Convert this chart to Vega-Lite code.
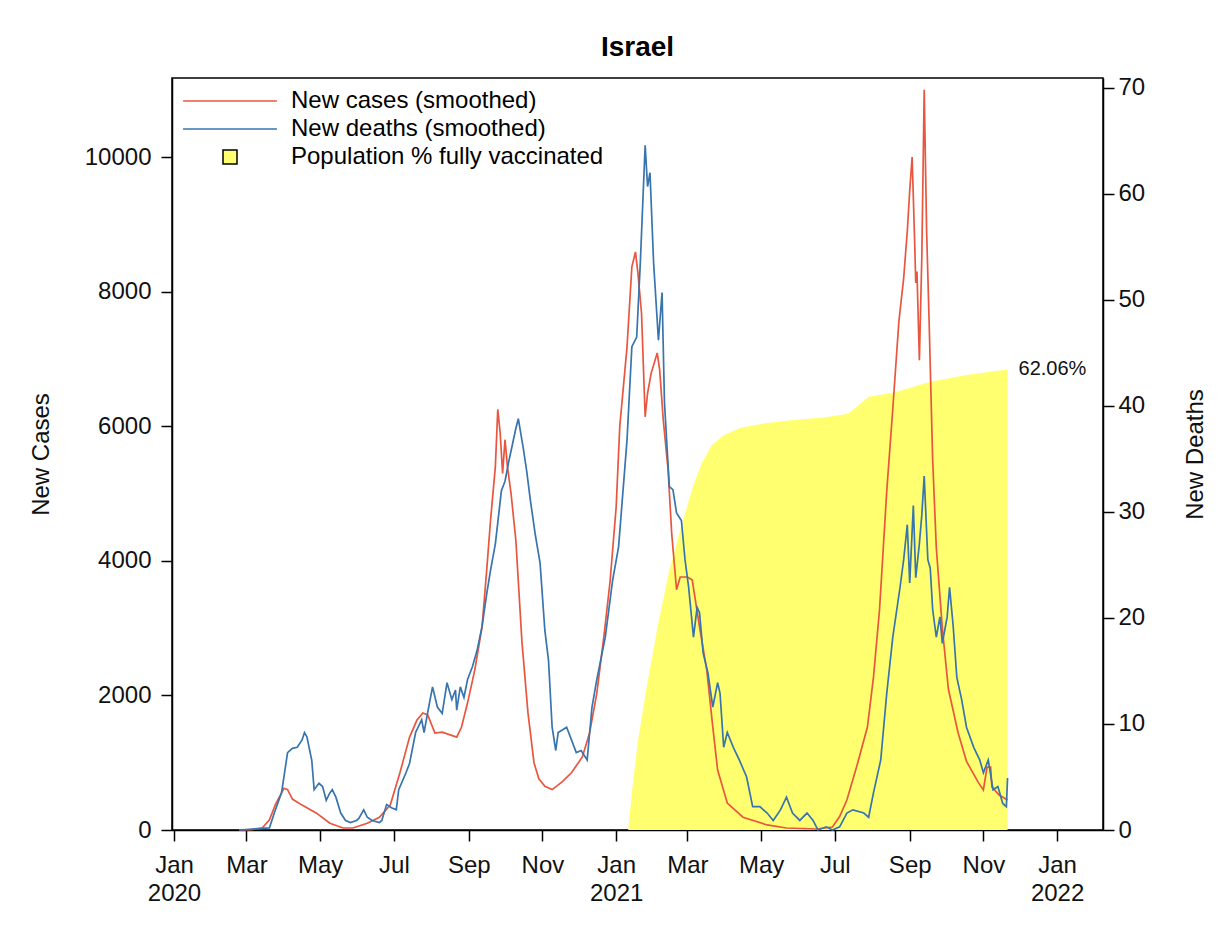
{
  "$schema": "https://vega.github.io/schema/vega-lite/v6.json",
  "width": 931,
  "height": 752,
  "autosize": "none",
  "padding": {"left": 172, "top": 78, "right": 125, "bottom": 97},
  "background": "white",
  "title": {"text": "Israel", "fontSize": 28, "fontWeight": "bold", "font": "Liberation Sans", "color": "#000", "anchor": "middle", "offset": 14},
  "datasets": {
    "cases": [
      {"date": "2020-02-24", "value": 0}, {"date": "2020-03-05", "value": 5}, {"date": "2020-03-14", "value": 30},
      {"date": "2020-03-20", "value": 150}, {"date": "2020-03-25", "value": 380}, {"date": "2020-04-01", "value": 620},
      {"date": "2020-04-04", "value": 600}, {"date": "2020-04-08", "value": 460}, {"date": "2020-04-16", "value": 370},
      {"date": "2020-04-28", "value": 250}, {"date": "2020-05-09", "value": 100}, {"date": "2020-05-20", "value": 30},
      {"date": "2020-05-28", "value": 30}, {"date": "2020-06-09", "value": 100}, {"date": "2020-06-19", "value": 190},
      {"date": "2020-06-28", "value": 370}, {"date": "2020-07-06", "value": 850}, {"date": "2020-07-14", "value": 1380},
      {"date": "2020-07-20", "value": 1630}, {"date": "2020-07-25", "value": 1740}, {"date": "2020-07-29", "value": 1710},
      {"date": "2020-08-04", "value": 1440}, {"date": "2020-08-10", "value": 1455}, {"date": "2020-08-22", "value": 1380},
      {"date": "2020-08-26", "value": 1530}, {"date": "2020-08-31", "value": 1890}, {"date": "2020-09-06", "value": 2380},
      {"date": "2020-09-12", "value": 3020}, {"date": "2020-09-16", "value": 3900}, {"date": "2020-09-19", "value": 4600},
      {"date": "2020-09-23", "value": 5400}, {"date": "2020-09-25", "value": 6250}, {"date": "2020-09-27", "value": 5900},
      {"date": "2020-09-29", "value": 5300}, {"date": "2020-10-01", "value": 5800}, {"date": "2020-10-03", "value": 5400},
      {"date": "2020-10-06", "value": 5000}, {"date": "2020-10-10", "value": 4300}, {"date": "2020-10-15", "value": 2800},
      {"date": "2020-10-20", "value": 1740}, {"date": "2020-10-25", "value": 1000}, {"date": "2020-10-29", "value": 760},
      {"date": "2020-11-03", "value": 650}, {"date": "2020-11-09", "value": 600}, {"date": "2020-11-17", "value": 710},
      {"date": "2020-11-25", "value": 850}, {"date": "2020-12-04", "value": 1085}, {"date": "2020-12-10", "value": 1440},
      {"date": "2020-12-16", "value": 2035}, {"date": "2020-12-22", "value": 2900}, {"date": "2020-12-27", "value": 3700},
      {"date": "2021-01-01", "value": 4800}, {"date": "2021-01-04", "value": 6000}, {"date": "2021-01-10", "value": 7180},
      {"date": "2021-01-14", "value": 8370}, {"date": "2021-01-17", "value": 8590}, {"date": "2021-01-19", "value": 8280},
      {"date": "2021-01-22", "value": 7680}, {"date": "2021-01-25", "value": 6140}, {"date": "2021-01-27", "value": 6490},
      {"date": "2021-01-30", "value": 6790}, {"date": "2021-02-04", "value": 7090}, {"date": "2021-02-06", "value": 6840},
      {"date": "2021-02-09", "value": 6090}, {"date": "2021-02-13", "value": 5350}, {"date": "2021-02-16", "value": 4400},
      {"date": "2021-02-20", "value": 3570}, {"date": "2021-02-23", "value": 3760}, {"date": "2021-03-01", "value": 3760},
      {"date": "2021-03-05", "value": 3715}, {"date": "2021-03-11", "value": 3020}, {"date": "2021-03-17", "value": 2380},
      {"date": "2021-03-22", "value": 1530}, {"date": "2021-03-26", "value": 890}, {"date": "2021-04-03", "value": 400},
      {"date": "2021-04-16", "value": 190}, {"date": "2021-05-06", "value": 75}, {"date": "2021-05-22", "value": 30},
      {"date": "2021-06-16", "value": 15}, {"date": "2021-06-29", "value": 45}, {"date": "2021-07-05", "value": 200},
      {"date": "2021-07-11", "value": 445}, {"date": "2021-07-19", "value": 935}, {"date": "2021-07-28", "value": 1530},
      {"date": "2021-08-02", "value": 2270}, {"date": "2021-08-07", "value": 3270}, {"date": "2021-08-13", "value": 5040},
      {"date": "2021-08-18", "value": 6260}, {"date": "2021-08-23", "value": 7550}, {"date": "2021-08-27", "value": 8200},
      {"date": "2021-08-30", "value": 8900}, {"date": "2021-09-01", "value": 9500}, {"date": "2021-09-03", "value": 10000},
      {"date": "2021-09-05", "value": 8800}, {"date": "2021-09-06", "value": 8130}, {"date": "2021-09-07", "value": 8300},
      {"date": "2021-09-09", "value": 6980}, {"date": "2021-09-11", "value": 8500}, {"date": "2021-09-13", "value": 11000},
      {"date": "2021-09-15", "value": 8900}, {"date": "2021-09-17", "value": 7600}, {"date": "2021-09-20", "value": 5500},
      {"date": "2021-09-23", "value": 4200}, {"date": "2021-09-28", "value": 3000}, {"date": "2021-10-03", "value": 2095},
      {"date": "2021-10-11", "value": 1450}, {"date": "2021-10-18", "value": 1020}, {"date": "2021-10-28", "value": 700},
      {"date": "2021-11-01", "value": 595}, {"date": "2021-11-04", "value": 935}, {"date": "2021-11-07", "value": 935},
      {"date": "2021-11-08", "value": 640}, {"date": "2021-11-14", "value": 520}, {"date": "2021-11-21", "value": 445}
    ],
    "deaths": [
      {"date": "2020-02-24", "value": 0}, {"date": "2020-03-20", "value": 0.2}, {"date": "2020-03-24", "value": 1.6},
      {"date": "2020-03-30", "value": 3.5}, {"date": "2020-04-04", "value": 7.3}, {"date": "2020-04-08", "value": 7.7},
      {"date": "2020-04-12", "value": 7.8}, {"date": "2020-04-16", "value": 8.5}, {"date": "2020-04-18", "value": 9.2},
      {"date": "2020-04-20", "value": 8.8}, {"date": "2020-04-24", "value": 6.6}, {"date": "2020-04-26", "value": 3.8},
      {"date": "2020-04-30", "value": 4.4}, {"date": "2020-05-03", "value": 4.1}, {"date": "2020-05-06", "value": 2.8},
      {"date": "2020-05-09", "value": 3.5}, {"date": "2020-05-11", "value": 3.8}, {"date": "2020-05-14", "value": 3.1},
      {"date": "2020-05-18", "value": 1.6}, {"date": "2020-05-22", "value": 0.9}, {"date": "2020-05-26", "value": 0.7},
      {"date": "2020-05-31", "value": 0.9}, {"date": "2020-06-02", "value": 1.1}, {"date": "2020-06-06", "value": 1.9},
      {"date": "2020-06-09", "value": 1.2}, {"date": "2020-06-13", "value": 0.9}, {"date": "2020-06-19", "value": 0.7},
      {"date": "2020-06-21", "value": 0.9}, {"date": "2020-06-25", "value": 2.4}, {"date": "2020-06-29", "value": 2.1},
      {"date": "2020-07-03", "value": 1.9}, {"date": "2020-07-05", "value": 3.8}, {"date": "2020-07-11", "value": 5.4},
      {"date": "2020-07-14", "value": 6.3}, {"date": "2020-07-19", "value": 9.2}, {"date": "2020-07-24", "value": 10.4},
      {"date": "2020-07-26", "value": 9.2}, {"date": "2020-07-29", "value": 11.1}, {"date": "2020-08-02", "value": 13.5},
      {"date": "2020-08-06", "value": 11.6}, {"date": "2020-08-10", "value": 11.0}, {"date": "2020-08-14", "value": 13.9},
      {"date": "2020-08-18", "value": 12.3}, {"date": "2020-08-21", "value": 13.2}, {"date": "2020-08-22", "value": 11.3},
      {"date": "2020-08-25", "value": 13.5}, {"date": "2020-08-28", "value": 12.5}, {"date": "2020-08-31", "value": 14.2},
      {"date": "2020-09-04", "value": 15.4}, {"date": "2020-09-08", "value": 17.0}, {"date": "2020-09-12", "value": 19.2},
      {"date": "2020-09-16", "value": 22.4}, {"date": "2020-09-19", "value": 24.5}, {"date": "2020-09-23", "value": 27.0},
      {"date": "2020-09-28", "value": 32.0}, {"date": "2020-10-01", "value": 32.9}, {"date": "2020-10-04", "value": 34.7},
      {"date": "2020-10-07", "value": 36.3}, {"date": "2020-10-10", "value": 37.9}, {"date": "2020-10-12", "value": 38.8},
      {"date": "2020-10-16", "value": 36.1}, {"date": "2020-10-19", "value": 33.8}, {"date": "2020-10-22", "value": 31.1},
      {"date": "2020-10-26", "value": 27.9}, {"date": "2020-10-30", "value": 25.2}, {"date": "2020-11-03", "value": 18.8},
      {"date": "2020-11-06", "value": 16.0}, {"date": "2020-11-09", "value": 9.7}, {"date": "2020-11-12", "value": 7.5},
      {"date": "2020-11-14", "value": 9.2}, {"date": "2020-11-21", "value": 9.7}, {"date": "2020-11-25", "value": 8.5},
      {"date": "2020-11-29", "value": 7.3}, {"date": "2020-12-03", "value": 7.5}, {"date": "2020-12-08", "value": 6.6},
      {"date": "2020-12-12", "value": 11.6}, {"date": "2020-12-16", "value": 14.2}, {"date": "2020-12-23", "value": 18.2},
      {"date": "2020-12-29", "value": 23.5}, {"date": "2021-01-03", "value": 26.7}, {"date": "2021-01-10", "value": 36.8},
      {"date": "2021-01-14", "value": 45.6}, {"date": "2021-01-18", "value": 46.5}, {"date": "2021-01-21", "value": 53.5},
      {"date": "2021-01-25", "value": 64.6}, {"date": "2021-01-27", "value": 60.7}, {"date": "2021-01-29", "value": 62.0},
      {"date": "2021-02-01", "value": 53.5}, {"date": "2021-02-05", "value": 46.2}, {"date": "2021-02-08", "value": 50.7},
      {"date": "2021-02-10", "value": 40.3}, {"date": "2021-02-14", "value": 32.4}, {"date": "2021-02-17", "value": 32.1},
      {"date": "2021-02-20", "value": 29.9}, {"date": "2021-02-24", "value": 29.2}, {"date": "2021-02-27", "value": 25.5},
      {"date": "2021-03-02", "value": 22.9}, {"date": "2021-03-06", "value": 18.2}, {"date": "2021-03-09", "value": 21.0},
      {"date": "2021-03-11", "value": 20.5}, {"date": "2021-03-14", "value": 16.7}, {"date": "2021-03-18", "value": 14.8},
      {"date": "2021-03-22", "value": 11.6}, {"date": "2021-03-26", "value": 13.9}, {"date": "2021-03-28", "value": 12.9},
      {"date": "2021-03-31", "value": 7.8}, {"date": "2021-04-03", "value": 9.2}, {"date": "2021-04-08", "value": 7.8},
      {"date": "2021-04-13", "value": 6.6}, {"date": "2021-04-19", "value": 5.0}, {"date": "2021-04-24", "value": 2.2},
      {"date": "2021-04-30", "value": 2.2}, {"date": "2021-05-06", "value": 1.6}, {"date": "2021-05-11", "value": 0.9},
      {"date": "2021-05-17", "value": 1.9}, {"date": "2021-05-22", "value": 3.1}, {"date": "2021-05-27", "value": 1.6},
      {"date": "2021-06-02", "value": 0.9}, {"date": "2021-06-08", "value": 1.6}, {"date": "2021-06-13", "value": 0.9},
      {"date": "2021-06-17", "value": 0}, {"date": "2021-06-24", "value": 0.3}, {"date": "2021-06-29", "value": 0},
      {"date": "2021-07-05", "value": 0.3}, {"date": "2021-07-11", "value": 1.6}, {"date": "2021-07-16", "value": 1.9},
      {"date": "2021-07-25", "value": 1.6}, {"date": "2021-07-29", "value": 1.2}, {"date": "2021-08-02", "value": 3.5},
      {"date": "2021-08-08", "value": 6.6}, {"date": "2021-08-13", "value": 12.9}, {"date": "2021-08-18", "value": 18.2},
      {"date": "2021-08-24", "value": 22.9}, {"date": "2021-08-27", "value": 25.5}, {"date": "2021-08-30", "value": 28.8},
      {"date": "2021-09-01", "value": 23.3}, {"date": "2021-09-04", "value": 30.6}, {"date": "2021-09-06", "value": 23.8},
      {"date": "2021-09-09", "value": 27.0}, {"date": "2021-09-11", "value": 29.7}, {"date": "2021-09-13", "value": 33.4},
      {"date": "2021-09-16", "value": 25.5}, {"date": "2021-09-18", "value": 24.7}, {"date": "2021-09-20", "value": 20.8},
      {"date": "2021-09-23", "value": 18.2}, {"date": "2021-09-26", "value": 20.1}, {"date": "2021-09-28", "value": 17.6},
      {"date": "2021-10-02", "value": 20.1}, {"date": "2021-10-04", "value": 22.9}, {"date": "2021-10-07", "value": 19.2},
      {"date": "2021-10-10", "value": 14.4}, {"date": "2021-10-14", "value": 12.3}, {"date": "2021-10-18", "value": 9.7},
      {"date": "2021-10-24", "value": 7.8}, {"date": "2021-10-29", "value": 6.6}, {"date": "2021-11-01", "value": 5.4},
      {"date": "2021-11-05", "value": 6.6}, {"date": "2021-11-09", "value": 3.8}, {"date": "2021-11-13", "value": 4.1},
      {"date": "2021-11-17", "value": 2.5}, {"date": "2021-11-20", "value": 2.2}, {"date": "2021-11-21", "value": 4.9}
    ],
    "vacc": [
      {"date": "2021-01-11", "value": 0}, {"date": "2021-01-14", "value": 5}, {"date": "2021-01-19", "value": 12},
      {"date": "2021-01-26", "value": 19}, {"date": "2021-02-05", "value": 28}, {"date": "2021-02-14", "value": 35},
      {"date": "2021-02-24", "value": 41}, {"date": "2021-03-06", "value": 46.5}, {"date": "2021-03-13", "value": 49.5},
      {"date": "2021-03-21", "value": 51.8}, {"date": "2021-03-31", "value": 53.2}, {"date": "2021-04-14", "value": 54.2},
      {"date": "2021-05-04", "value": 54.8}, {"date": "2021-05-29", "value": 55.3}, {"date": "2021-06-22", "value": 55.6},
      {"date": "2021-07-12", "value": 56.1}, {"date": "2021-07-22", "value": 57.4}, {"date": "2021-07-29", "value": 58.4},
      {"date": "2021-08-20", "value": 59.0}, {"date": "2021-09-18", "value": 60.4}, {"date": "2021-10-18", "value": 61.3},
      {"date": "2021-11-21", "value": 62.06}
    ]
  },
  "encoding": {
    "x": {
      "field": "date", "type": "temporal",
      "scale": {"type": "utc", "domain": [{"year": 2019, "month": 12, "date": 30, "hours": 8, "utc": true}, {"year": 2022, "month": 2, "date": 8, "utc": true}]},
      "axis": {
        "title": null, "grid": false,
        "values": [
          {"year": 2020, "month": 1, "date": 1, "utc": true}, {"year": 2020, "month": 3, "date": 1, "utc": true},
          {"year": 2020, "month": 5, "date": 1, "utc": true}, {"year": 2020, "month": 7, "date": 1, "utc": true},
          {"year": 2020, "month": 9, "date": 1, "utc": true}, {"year": 2020, "month": 11, "date": 1, "utc": true},
          {"year": 2021, "month": 1, "date": 1, "utc": true}, {"year": 2021, "month": 3, "date": 1, "utc": true},
          {"year": 2021, "month": 5, "date": 1, "utc": true}, {"year": 2021, "month": 7, "date": 1, "utc": true},
          {"year": 2021, "month": 9, "date": 1, "utc": true}, {"year": 2021, "month": 11, "date": 1, "utc": true},
          {"year": 2022, "month": 1, "date": 1, "utc": true}
        ],
        "labelExpr": "utcmonth(datum.value) == 0 ? [utcFormat(datum.value, '%b'), utcFormat(datum.value, '%Y')] : utcFormat(datum.value, '%b')",
        "labelLineHeight": 28, "labelPadding": 12, "labelFlush": false, "labelOverlap": false
      }
    }
  },
  "layer": [
    {
      "data": {"name": "vacc"},
      "mark": {"type": "area", "opacity": 1, "interpolate": "linear"},
      "encoding": {
        "y": {"field": "value", "type": "quantitative", "scale": {"domain": [0, 101.34], "nice": false, "zero": true}, "axis": null},
        "fill": {
          "datum": "Population % fully vaccinated",
          "scale": {"domain": ["New cases (smoothed)", "New deaths (smoothed)", "Population % fully vaccinated"], "range": ["transparent", "transparent", "#ffff70"]},
          "legend": {
            "title": null, "orient": "top-left", "offset": 11, "padding": 0,
            "labelFontSize": 24, "labelColor": "#000", "labelFont": "Liberation Sans", "labelLimit": 0,
            "symbolSize": 196, "symbolStrokeWidth": 1.5, "symbolOffset": 35, "labelOffset": 49, "rowPadding": 4,
            "encode": {"symbols": {"update": {"shape": {"signal": "datum.value == 'Population % fully vaccinated' ? 'square' : 'M-6.7,0H6.7'"}}}}
          }
        }
      }
    },
    {
      "data": {"name": "cases"},
      "mark": {"type": "line", "strokeWidth": 1.7},
      "encoding": {
        "y": {"field": "value", "type": "quantitative", "scale": {"domain": [0, 11175], "nice": false},
          "axis": {"orient": "left", "title": "New Cases", "values": [0, 2000, 4000, 6000, 8000, 10000], "format": "d", "labelPadding": 10, "titlePadding": 31, "grid": false, "labelFlush": false}},
        "stroke": {"datum": "New cases (smoothed)"}
      }
    },
    {
      "data": {"name": "deaths"},
      "mark": {"type": "line", "strokeWidth": 1.7},
      "encoding": {
        "y": {"field": "value", "type": "quantitative", "scale": {"domain": [0, 70.94], "nice": false},
          "axis": {"orient": "right", "title": "New Deaths", "values": [0, 10, 20, 30, 40, 50, 60, 70], "labelPadding": 4, "titlePadding": 63, "titleAngle": 270, "grid": false, "labelFlush": false}},
        "stroke": {
          "datum": "New deaths (smoothed)",
          "scale": {"domain": ["New cases (smoothed)", "New deaths (smoothed)", "Population % fully vaccinated"], "range": ["#e8563f", "#3874ad", "#000000"]},
          "legend": {
            "title": null, "orient": "top-left", "offset": 11, "padding": 0,
            "labelFontSize": 24, "labelColor": "#000", "labelFont": "Liberation Sans", "labelLimit": 0,
            "symbolSize": 196, "symbolStrokeWidth": 1.5, "symbolOffset": 35, "labelOffset": 49, "rowPadding": 4,
            "encode": {"symbols": {"update": {"shape": {"signal": "datum.value == 'Population % fully vaccinated' ? 'square' : 'M-6.7,0H6.7'"}}}}
          }
        }
      }
    },
    {
      "data": {"name": "vacc"},
      "transform": [{"filter": "datum.value == 62.06"}, {"calculate": "format(datum.value, '.2f') + '%'", "as": "label"}],
      "mark": {"type": "text", "align": "left", "baseline": "middle", "dx": 11, "fontSize": 20, "font": "Liberation Sans", "color": "#111"},
      "encoding": {
        "y": {"field": "value", "type": "quantitative", "scale": {"domain": [0, 101.34], "nice": false}, "axis": null},
        "text": {"field": "label"}
      }
    }
  ],
  "resolve": {"scale": {"y": "independent"}},
  "config": {
    "font": "Liberation Sans",
    "view": {"stroke": "#000", "strokeWidth": 1.5},
    "axis": {
      "domainColor": "#000", "domainWidth": 1.5, "tickColor": "#000", "tickWidth": 1.5, "tickSize": 11,
      "labelFontSize": 24, "labelColor": "#111", "labelFont": "Liberation Sans",
      "titleFontSize": 24, "titleFontWeight": "normal", "titleColor": "#111", "titleFont": "Liberation Sans"
    }
  }
}
